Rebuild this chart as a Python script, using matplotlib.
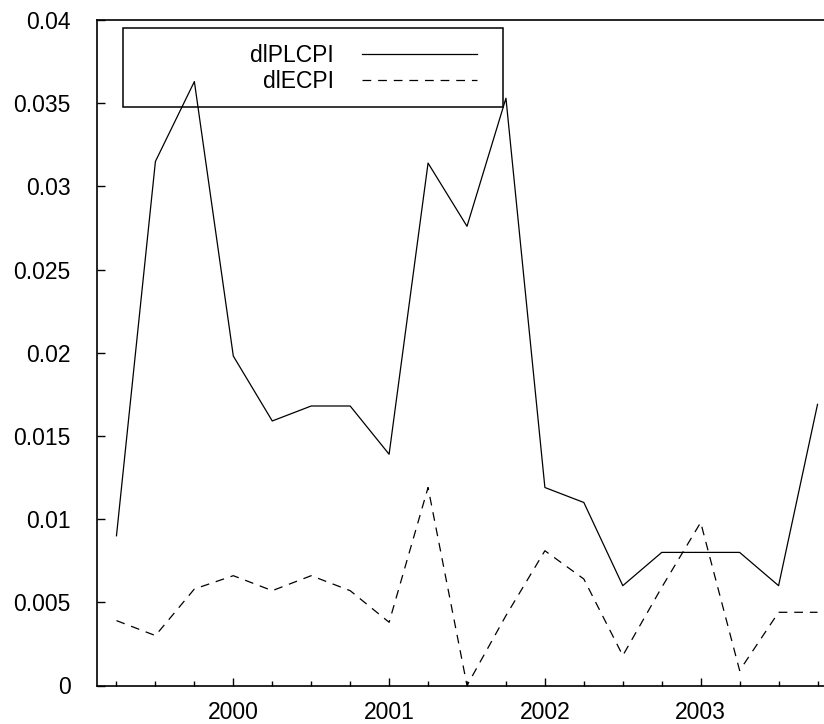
"""Inflation trimestrielle : dlPLCPI vs dlECPI, 1999-2003 (style gnuplot)."""

import matplotlib

matplotlib.use("Agg")
import matplotlib.pyplot as plt
from matplotlib.patches import Rectangle
from matplotlib.ticker import FixedLocator, MultipleLocator

plt.rcParams["font.family"] = ["Liberation Sans", "DejaVu Sans"]

# Trimestres 1999Q2 .. 2003Q4 (annee + fraction)
quarters = [
    1999.25, 1999.5, 1999.75,
    2000.0, 2000.25, 2000.5, 2000.75,
    2001.0, 2001.25, 2001.5, 2001.75,
    2002.0, 2002.25, 2002.5, 2002.75,
    2003.0, 2003.25, 2003.5, 2003.75,
]

dlplcpi = [
    0.0090, 0.0315, 0.0363,
    0.0198, 0.0159, 0.0168, 0.0168,
    0.0139, 0.0314, 0.0276, 0.0353,
    0.0119, 0.0110, 0.0060, 0.0080,
    0.0080, 0.0080, 0.0060, 0.0169,
]

dlecpi = [
    0.0039, 0.0030, 0.0058,
    0.0066, 0.0057, 0.0066, 0.0057,
    0.0038, 0.0119, 0.0000, 0.0042,
    0.0081, 0.0064, 0.0018, 0.0059,
    0.0098, 0.0009, 0.0044, 0.0044,
]

year_ticks = [2000, 2001, 2002, 2003]
y_ticks = [0, 0.005, 0.01, 0.015, 0.02, 0.025, 0.03, 0.035, 0.04]
y_labels = ["0", "0.005", "0.01", "0.015", "0.02", "0.025", "0.03", "0.035", "0.04"]

W, H = 824, 724
fig = plt.figure(figsize=(W / 100, H / 100), dpi=100)
ax = fig.add_axes([97 / W, 38.5 / H, 740 / W, 665.5 / H])

ax.plot(quarters, dlplcpi, color="black", linewidth=0.9, label="dlPLCPI")
ax.plot(quarters, dlecpi, color="black", linewidth=0.9, dashes=(7, 5.5), label="dlECPI")

ax.set_xlim(1999.125, 2003.875)
ax.set_ylim(0, 0.04)

ax.xaxis.set_major_locator(FixedLocator(year_ticks))
ax.xaxis.set_minor_locator(MultipleLocator(0.25))
ax.set_xticklabels([str(y) for y in year_ticks])
ax.set_yticks(y_ticks)
ax.set_yticklabels(y_labels)

ax.tick_params(axis="both", which="major", direction="in", length=6, width=1,
               labelsize=16.5, colors="black")
ax.tick_params(axis="x", which="major", pad=11)
ax.tick_params(axis="y", which="major", pad=19)
ax.tick_params(axis="x", which="minor", direction="in", length=3.5, width=1)
ax.tick_params(top=False, right=False, which="both")

for side in ("left", "bottom", "top"):
    ax.spines[side].set_linewidth(1.2)
ax.spines["right"].set_visible(False)

# Legende sans fond, texte aligne a droite avant l'echantillon
# (haut du contenu a 44 px du haut de l'image)
leg = ax.legend(
    loc="upper right",
    bbox_to_anchor=(477 / W, (H - 44) / H),
    bbox_transform=fig.transFigure,
    frameon=False,
    fontsize=16.5,
    markerfirst=False,
    handlelength=5.0,
    handletextpad=1.25,
    labelspacing=0.15,
    borderpad=0,
    borderaxespad=0,
)
for t in leg.get_texts():
    t.set_ha("right")

# Cadre de la legende (x 123-503 px, y 28-107 px)
fig.add_artist(Rectangle((123 / W, (H - 107) / H), 380 / W, 79 / H,
                         transform=fig.transFigure, fill=False,
                         edgecolor="black", linewidth=1.1))

fig.savefig("out.png", dpi=100)
